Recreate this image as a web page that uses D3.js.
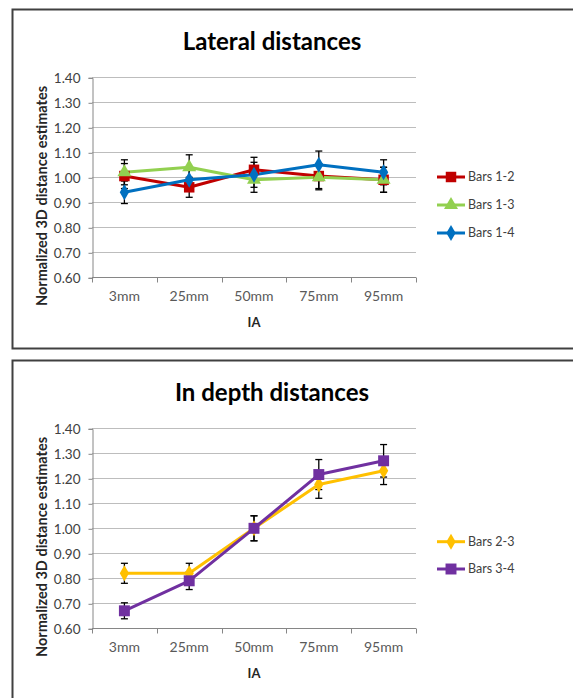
<!DOCTYPE html>
<html>
<head>
<meta charset="utf-8">
<script src="https://cdn.jsdelivr.net/npm/d3@7/dist/d3.min.js"></script>
<style>
  body { margin: 0; background: #fff; }
  text { font-family: Lato, 'Open Sans', sans-serif; }
</style>
</head>
<body>
<div id="chart"></div>
<script>
// categories and ticks
const categories = ['3mm', '25mm', '50mm', '75mm', '95mm'];
const yTicks = [0.6, 0.7, 0.8, 0.9, 1.0, 1.1, 1.2, 1.3, 1.4];

// lateral distances
const bars12 = [1.005, 0.96, 1.03, 1.005, 0.99];
const bars12Err = [0.05, 0.04, 0.05, 0.05, 0.05];
const bars13 = [1.02, 1.04, 0.99, 1.0, 0.99];
const bars13Err = [0.05, 0.05, 0.05, 0.05, 0.05];
const bars14 = [0.94, 0.99, 1.01, 1.05, 1.02];
const bars14Err = [0.045, 0.04, 0.05, 0.055, 0.05];

// in depth distances
const bars23 = [0.82, 0.82, 1.0, 1.175, 1.23];
const bars23Err = [0.04, 0.04, 0.05, 0.055, 0.055];
const bars34 = [0.67, 0.79, 1.0, 1.215, 1.27];
const bars34Err = [0.032, 0.035, 0.05, 0.06, 0.065];

const W = 573;
const H = 698;

const svg = d3.select('#chart')
  .append('svg')
  .attr('width', W)
  .attr('height', H);

const panels = [
  {
    top: 9,
    title: 'Lateral distances',
    series: [
      { name: 'Bars 1-2', values: bars12, err: bars12Err, color: '#C00000', symbol: d3.symbolSquare, size: 110 },
      { name: 'Bars 1-3', values: bars13, err: bars13Err, color: '#92D050', symbol: d3.symbolTriangle, size: 85 },
      { name: 'Bars 1-4', values: bars14, err: bars14Err, color: '#0070C0', symbol: d3.symbolDiamond, size: 75 }
    ],
    legendY: [177, 205, 233]
  },
  {
    top: 360,
    title: 'In depth distances',
    series: [
      { name: 'Bars 2-3', values: bars23, err: bars23Err, color: '#FFC000', symbol: d3.symbolDiamond, size: 75 },
      { name: 'Bars 3-4', values: bars34, err: bars34Err, color: '#7030A0', symbol: d3.symbolSquare, size: 120 }
    ],
    legendY: [541.7, 569]
  }
];

panels.forEach((p) => {
  const g = svg.append('g').attr('transform', `translate(0, ${p.top})`);

  // frame
  g.append('rect')
    .attr('x', 12.5)
    .attr('y', 0.5)
    .attr('width', 580)
    .attr('height', p.top === 9 ? 339 : 360)
    .attr('fill', 'none')
    .attr('stroke', '#404040')
    .attr('stroke-width', 2);

  g.append('text')
    .attr('x', 272)
    .attr('y', 41)
    .attr('text-anchor', 'middle')
    .style('font-size', '24px')
    .style('font-weight', 'bold')
    .style('fill', '#000')
    .text(p.title);

  const x = d3.scaleBand().domain(categories).range([92, 416]);
  const y = d3.scaleLinear().domain([0.6, 1.4]).range([268.3, 68.3]);

  // gridlines
  g.append('g')
    .selectAll('line')
    .data(yTicks.slice(1))
    .enter()
    .append('line')
    .attr('x1', 92)
    .attr('x2', 416)
    .attr('y1', (d) => Math.round(y(d)) + 0.5)
    .attr('y2', (d) => Math.round(y(d)) + 0.5)
    .attr('stroke', '#BDBDBD')
    .attr('stroke-width', 1);

  // y axis
  const yAxis = d3.axisLeft(y)
    .tickValues(yTicks)
    .tickSize(4)
    .tickPadding(8)
    .tickFormat(d3.format('.2f'));
  const ya = g.append('g')
    .attr('transform', 'translate(92.5, 0.5)')
    .call(yAxis);
  ya.selectAll('path, line').attr('stroke', '#868686');
  ya.selectAll('text')
    .style('font-size', '13.5px')
    .style('fill', '#404040')
    .attr('font-family', null);

  // x axis
  const xAxis = d3.axisBottom(x).tickSize(0).tickPadding(14);
  const xa = g.append('g')
    .attr('transform', `translate(0, ${Math.round(y(0.6)) + 0.5})`)
    .call(xAxis);
  xa.select('.domain').attr('stroke', '#868686').attr('d', 'M92,0H416');
  xa.selectAll('text')
    .style('font-size', '14px')
    .style('fill', '#595959')
    .attr('font-family', null);
  xa.selectAll('.sep')
    .data(categories.concat(['end']))
    .enter()
    .append('line')
    .attr('x1', (d, i) => Math.round(92 + i * x.bandwidth()) + 0.5)
    .attr('x2', (d, i) => Math.round(92 + i * x.bandwidth()) + 0.5)
    .attr('y1', 0)
    .attr('y2', 5)
    .attr('stroke', '#868686');

  g.append('text')
    .attr('x', 254)
    .attr('y', 318)
    .attr('text-anchor', 'middle')
    .style('font-size', '13px')
    .style('font-weight', 'bold')
    .style('fill', '#262626')
    .text('IA');

  g.append('text')
    .attr('transform', 'translate(47, 187) rotate(-90)')
    .attr('text-anchor', 'middle')
    .style('font-size', '14.5px')
    .style('font-weight', 'bold')
    .style('fill', '#262626')
    .text('Normalized  3D distance estimates');

  const cx = (i) => x(categories[i]) + x.bandwidth() / 2;
  const line = d3.line()
    .x((d, i) => cx(i))
    .y((d) => y(d));

  // lines
  p.series.forEach((s) => {
    g.append('path')
      .datum(s.values)
      .attr('d', line)
      .attr('fill', 'none')
      .attr('stroke', s.color)
      .attr('stroke-width', 3)
      .attr('stroke-linejoin', 'round');
  });

  // error bars (under the markers)
  p.series.forEach((s) => {
    const eb = g.append('g')
      .selectAll('g')
      .data(s.values)
      .enter()
      .append('g')
      .attr('stroke', '#000')
      .attr('stroke-width', 1.3);
    eb.append('line')
      .attr('x1', (d, i) => cx(i))
      .attr('x2', (d, i) => cx(i))
      .attr('y1', (d, i) => y(d + s.err[i]))
      .attr('y2', (d, i) => y(d - s.err[i]));
    eb.append('line')
      .attr('x1', (d, i) => cx(i) - 3.5)
      .attr('x2', (d, i) => cx(i) + 3.5)
      .attr('y1', (d, i) => y(d + s.err[i]))
      .attr('y2', (d, i) => y(d + s.err[i]));
    eb.append('line')
      .attr('x1', (d, i) => cx(i) - 3.5)
      .attr('x2', (d, i) => cx(i) + 3.5)
      .attr('y1', (d, i) => y(d - s.err[i]))
      .attr('y2', (d, i) => y(d - s.err[i]));
  });

  // markers
  p.series.forEach((s) => {
    g.append('g')
      .selectAll('path')
      .data(s.values)
      .enter()
      .append('path')
      .attr('d', d3.symbol().type(s.symbol).size(s.size))
      .attr('transform', (d, i) => `translate(${cx(i)}, ${y(d)})`)
      .attr('fill', s.color);
  });

  // legend
  const lg = g.append('g')
    .selectAll('g')
    .data(p.series)
    .enter()
    .append('g')
    .attr('transform', (d, i) => `translate(437, ${p.legendY[i] - p.top})`);
  lg.append('line')
    .attr('x1', 0)
    .attr('x2', 28)
    .attr('stroke', (d) => d.color)
    .attr('stroke-width', 3);
  lg.append('path')
    .attr('d', (d) => d3.symbol().type(d.symbol).size(d.size)())
    .attr('transform', 'translate(14, 0)')
    .attr('fill', (d) => d.color);
  lg.append('text')
    .attr('x', 31)
    .attr('dy', '0.35em')
    .style('font-size', '12.5px')
    .style('fill', '#404040')
    .text((d) => d.name);
});
</script>
</body>
</html>
